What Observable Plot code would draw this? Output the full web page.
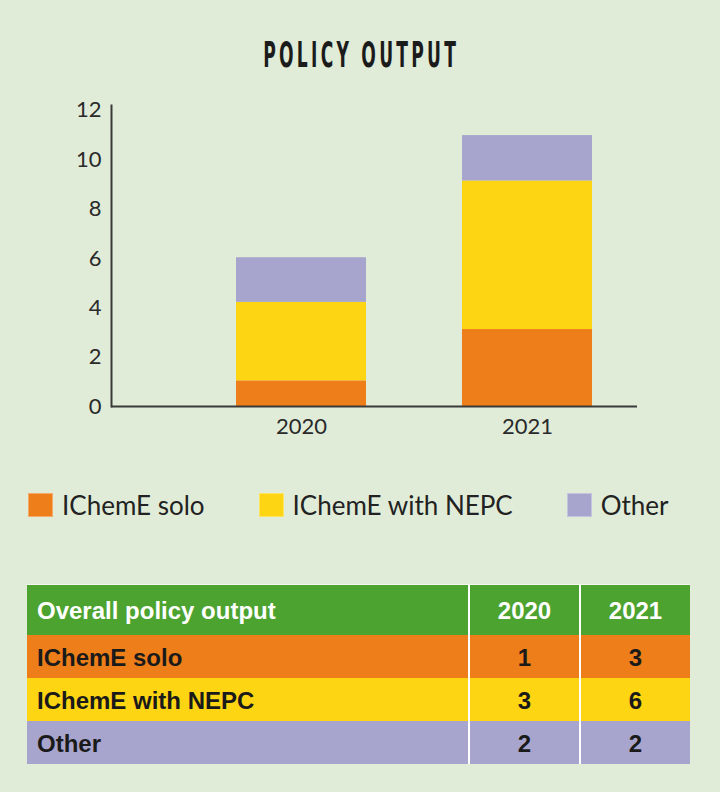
<!DOCTYPE html>
<html>
<head>
<meta charset="utf-8">
<script src="https://cdn.jsdelivr.net/npm/d3@7"></script>
<script src="https://cdn.jsdelivr.net/npm/@observablehq/plot@0.6"></script>
<style>
  html, body { margin: 0; padding: 0; }
  body { width: 720px; height: 792px; background: #e1ecd8; overflow: hidden; }
  #root { position: relative; width: 720px; height: 792px; }
  #title { position: absolute; left: 0; top: 38px; width: 722px; text-align: center; }
  #title span { display: inline-block; font-family: "DejaVu Sans", sans-serif; font-stretch: condensed; font-weight: bold; font-size: 35px; line-height: 34px; letter-spacing: 6px; color: #1b1b1b; transform-origin: center; }
  #chart { position: absolute; left: 0; top: 80px; }
  #legend { position: absolute; left: 28px; top: 489px; display: flex; gap: 54px; align-items: center; font-family: Lato, sans-serif; font-size: 26px; color: #222; }
  .item { display: flex; align-items: center; }
  .sw { width: 25px; height: 24px; margin-right: 9px; box-sizing: border-box; border: 1px solid rgba(255,255,255,0.35); }
  #tbl { position: absolute; left: 27px; top: 584px; border-collapse: collapse; font-family: "Liberation Sans", Arial, sans-serif; font-weight: bold; font-size: 24px; }
  #tbl td { padding: 0; box-sizing: border-box; }
  #tbl td.lab { padding-left: 10px; text-align: left; }
  #tbl td.num { text-align: center; border-left: 2px solid #ffffff; }
  #tbl tr.head td { color: #ffffff; height: 50px; background: #4da330; border-top: 1px solid rgba(255,255,255,0.6); padding-top: 3px; }
  #tbl tr.row td { color: #1a1a1a; height: 43px; padding-top: 3px; }
</style>
</head>
<body>
<div id="root">
  <div id="title"><span>POLICY OUTPUT</span></div>
  <div id="chart"></div>
  <div id="legend"></div>
  <table id="tbl"></table>
</div>
<script>
// ---- data ----
const years = ["2020", "2021"];
const series = ["IChemE solo", "IChemE with NEPC", "Other"];
const seriesColors = ["#ee7e19", "#fed512", "#a7a5cd"];
// values as drawn in the bar chart
const soloValues = [1.04, 3.12];
const nepcValues = [3.18, 6.02];
const otherValues = [1.81, 1.84];
// values as printed in the table
const tableTitle = "Overall policy output";
const tableSolo = [1, 3];
const tableNepc = [3, 6];
const tableOther = [2, 2];
const yTicks = [0, 2, 4, 6, 8, 10, 12];

const chartSeries = [soloValues, nepcValues, otherValues];
const tableSeries = [tableSolo, tableNepc, tableOther];

const rows = years.flatMap((y, i) => series.map((s, j) => ({year: y, series: s, value: chartSeries[j][i]})));

// title fit
const t = document.querySelector("#title span");
const w = t.getBoundingClientRect().width;
t.style.transform = `scaleX(${196 / w})`;

const plot = Plot.plot({
  width: 720,
  height: 360,
  marginLeft: 111,
  marginRight: 83,
  marginTop: 25,
  marginBottom: 34,
  style: {background: "transparent", fontFamily: "Lato, sans-serif", fontSize: "22px", color: "#2a2a2a"},
  x: {domain: years, paddingInner: 0.425, paddingOuter: 0.376, align: 0.735, label: null, tickSize: 0, tickPadding: 12},
  y: {domain: [0, 12.2], ticks: yTicks, tickSize: 0, tickPadding: 10, label: null},
  color: {domain: series, range: seriesColors},
  marks: [
    Plot.barY(rows, {x: "year", y: "value", fill: "series"}),
    Plot.frame({anchor: "left", stroke: "#3a3a3a", strokeWidth: 2}),
    Plot.ruleY([0], {stroke: "#3a3a3a", strokeWidth: 2})
  ]
});
document.getElementById("chart").appendChild(plot);

// legend
const legend = d3.select("#legend");
series.forEach((s, i) => {
  const it = legend.append("div").attr("class", "item");
  it.append("div").attr("class", "sw").style("background", seriesColors[i]);
  it.append("span").text(s);
});

// table
const tbl = d3.select("#tbl");
const head = tbl.append("tr").attr("class", "head");
head.append("td").attr("class", "lab").style("width", "442px").text(tableTitle);
years.forEach((y, i) => head.append("td").attr("class", "num").style("width", i === 0 ? "111px" : "110px").text(y));
series.forEach((s, j) => {
  const tr = tbl.append("tr").attr("class", "row").style("background", seriesColors[j]);
  tr.append("td").attr("class", "lab").text(s);
  years.forEach((y, i) => tr.append("td").attr("class", "num").text(tableSeries[j][i]));
});
</script>
</body>
</html>
